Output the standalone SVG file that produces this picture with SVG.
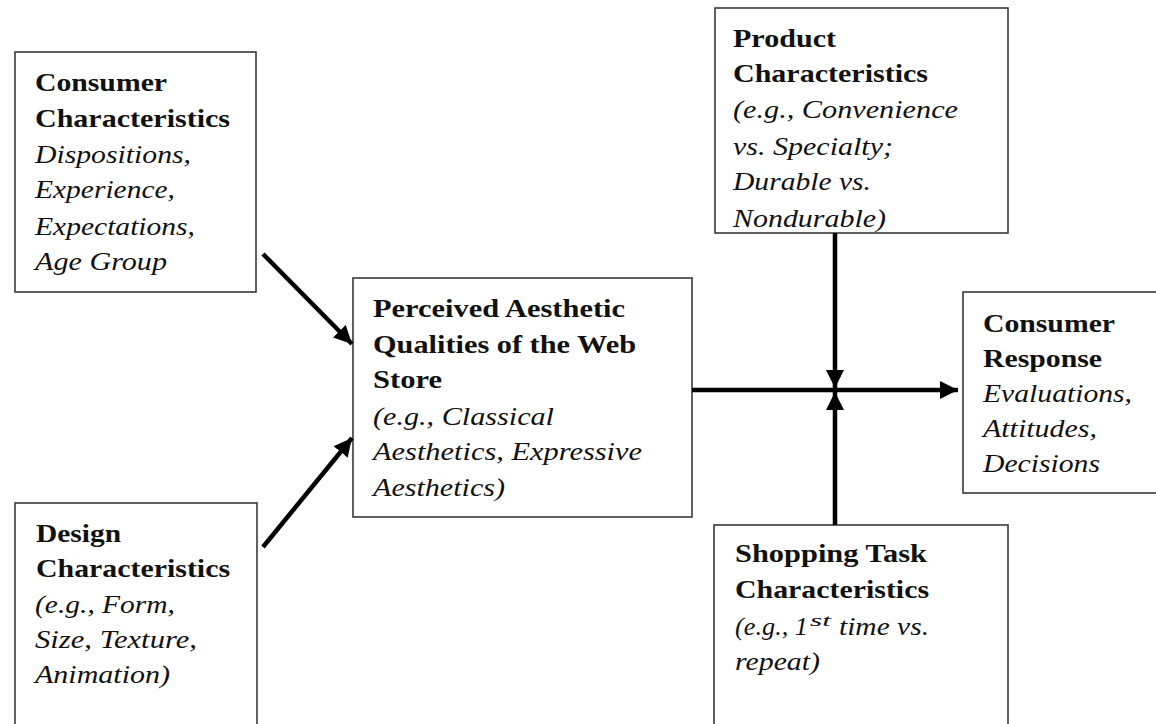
<svg xmlns="http://www.w3.org/2000/svg" width="1156" height="724" viewBox="0 0 1156 724">
<style>
.box{fill:#fff;stroke:#3a3a3a;stroke-width:1.6}
.b{font-family:"Liberation Serif","Times New Roman",serif;font-weight:bold;font-size:26px;fill:#111}
.i{font-family:"Liberation Serif","Times New Roman",serif;font-style:italic;font-size:26px;fill:#111}
.sup{font-family:"Liberation Serif","Times New Roman",serif;font-style:italic;font-size:16px;fill:#111}
.ln{stroke:#000;stroke-width:4.5;fill:none}
</style>
<defs>
<marker id="ah" viewBox="0 0 10 10" refX="10" refY="5" markerWidth="4" markerHeight="4" orient="auto" markerUnits="strokeWidth">
<path d="M0,0 L10,5 L0,10 z" fill="#000"/>
</marker>
</defs>
<rect width="1156" height="724" fill="#fff"/>

<g id="consumer-characteristics">
<rect class="box" x="15" y="52" width="241" height="240"/>
<text class="b" x="35" y="91" textLength="132" lengthAdjust="spacingAndGlyphs">Consumer</text>
<text class="b" x="35" y="127" textLength="195" lengthAdjust="spacingAndGlyphs">Characteristics</text>
<text class="i" x="35" y="163" textLength="156" lengthAdjust="spacingAndGlyphs">Dispositions,</text>
<text class="i" x="35" y="198" textLength="140" lengthAdjust="spacingAndGlyphs">Experience,</text>
<text class="i" x="35" y="235" textLength="160" lengthAdjust="spacingAndGlyphs">Expectations,</text>
<text class="i" x="35" y="270" textLength="132" lengthAdjust="spacingAndGlyphs">Age Group</text>
</g>

<g id="design-characteristics">
<rect class="box" x="15" y="503" width="242" height="240"/>
<text class="b" x="36" y="542" textLength="85" lengthAdjust="spacingAndGlyphs">Design</text>
<text class="b" x="36" y="577" textLength="194" lengthAdjust="spacingAndGlyphs">Characteristics</text>
<text class="i" x="35" y="613" textLength="140" lengthAdjust="spacingAndGlyphs">(e.g., Form,</text>
<text class="i" x="35" y="648" textLength="162" lengthAdjust="spacingAndGlyphs">Size, Texture,</text>
<text class="i" x="35" y="683" textLength="135" lengthAdjust="spacingAndGlyphs">Animation)</text>
</g>

<g id="perceived-aesthetic">
<rect class="box" x="353" y="278" width="339" height="239"/>
<text class="b" x="373" y="317" textLength="252" lengthAdjust="spacingAndGlyphs">Perceived Aesthetic</text>
<text class="b" x="373" y="353" textLength="263" lengthAdjust="spacingAndGlyphs">Qualities of the Web</text>
<text class="b" x="373" y="388" textLength="69" lengthAdjust="spacingAndGlyphs">Store</text>
<text class="i" x="373" y="425" textLength="181" lengthAdjust="spacingAndGlyphs">(e.g., Classical</text>
<text class="i" x="373" y="460" textLength="269" lengthAdjust="spacingAndGlyphs">Aesthetics, Expressive</text>
<text class="i" x="373" y="496" textLength="132" lengthAdjust="spacingAndGlyphs">Aesthetics)</text>
</g>

<g id="product-characteristics">
<rect class="box" x="715" y="8" width="293" height="225"/>
<text class="b" x="733" y="47" textLength="103" lengthAdjust="spacingAndGlyphs">Product</text>
<text class="b" x="733" y="82" textLength="195" lengthAdjust="spacingAndGlyphs">Characteristics</text>
<text class="i" x="733" y="118" textLength="225" lengthAdjust="spacingAndGlyphs">(e.g., Convenience</text>
<text class="i" x="733" y="155" textLength="160" lengthAdjust="spacingAndGlyphs">vs. Specialty;</text>
<text class="i" x="733" y="190" textLength="138" lengthAdjust="spacingAndGlyphs">Durable vs.</text>
<text class="i" x="733" y="227" textLength="153" lengthAdjust="spacingAndGlyphs">Nondurable)</text>
</g>

<g id="consumer-response">
<rect class="box" x="963" y="292" width="200" height="201"/>
<text class="b" x="983" y="332" textLength="132" lengthAdjust="spacingAndGlyphs">Consumer</text>
<text class="b" x="983" y="367" textLength="119" lengthAdjust="spacingAndGlyphs">Response</text>
<text class="i" x="983" y="402" textLength="149" lengthAdjust="spacingAndGlyphs">Evaluations,</text>
<text class="i" x="983" y="437" textLength="114" lengthAdjust="spacingAndGlyphs">Attitudes,</text>
<text class="i" x="983" y="472" textLength="117" lengthAdjust="spacingAndGlyphs">Decisions</text>
</g>

<g id="shopping-task">
<rect class="box" x="714" y="525" width="294" height="220"/>
<text class="b" x="735" y="562" textLength="192" lengthAdjust="spacingAndGlyphs">Shopping Task</text>
<text class="b" x="735" y="598" textLength="194" lengthAdjust="spacingAndGlyphs">Characteristics</text>
<text class="i" x="735" y="635" textLength="73" lengthAdjust="spacingAndGlyphs">(e.g., 1</text>
<text class="sup" x="810" y="626" textLength="21" lengthAdjust="spacingAndGlyphs">st</text>
<text class="i" x="839" y="635" textLength="90" lengthAdjust="spacingAndGlyphs">time vs.</text>
<text class="i" x="735" y="670" textLength="85" lengthAdjust="spacingAndGlyphs">repeat)</text>
</g>

<g id="connectors">
<line class="ln" x1="263" y1="254" x2="352" y2="344" marker-end="url(#ah)"/>
<line class="ln" x1="263" y1="547" x2="352" y2="438" marker-end="url(#ah)"/>
<line class="ln" x1="692" y1="390" x2="958" y2="390" marker-end="url(#ah)"/>
<line class="ln" x1="835" y1="233" x2="835" y2="388" marker-end="url(#ah)"/>
<line class="ln" x1="835" y1="525" x2="835" y2="392" marker-end="url(#ah)"/>
</g>
</svg>
